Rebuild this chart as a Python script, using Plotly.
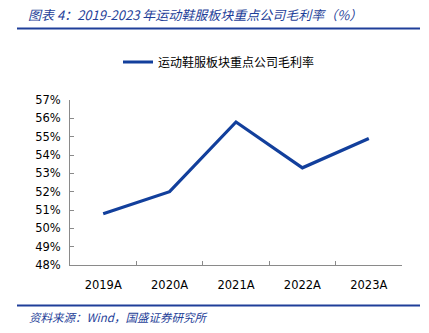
import plotly.graph_objects as go

categories = ["2019A", "2020A", "2021A", "2022A", "2023A"]
margin_values = [50.8, 52.0, 55.8, 53.3, 54.9]
series_name = "运动鞋服板块重点公司毛利率"
y_ticks = [48, 49, 50, 51, 52, 53, 54, 55, 56, 57]
y_tick_labels = [f"{v}%" for v in y_ticks]

W, H = 429, 333
L, R, T, B = 70, 27, 100, 68
PW, PH = W - L - R, H - T - B

def px_x(x):
    return (x - L) / PW

def px_y(y):
    return (H - B - y) / PH

BLUE = "#123f9c"
TEXT_BLUE = "#1f3f99"

fig = go.Figure()
fig.add_trace(go.Scatter(
    x=categories, y=margin_values, mode="lines", name=series_name,
    line=dict(color=BLUE, width=3.2),
))

fig.update_layout(
    width=W, height=H,
    margin=dict(l=L, r=R, t=T, b=B),
    paper_bgcolor="white", plot_bgcolor="white",
    showlegend=True,
    legend=dict(
        orientation="h", x=px_x(118), y=px_y(62), xanchor="left", yanchor="middle",
        font=dict(family="Noto Sans CJK SC", size=12, color="#000"),
        bgcolor="rgba(0,0,0,0)", itemwidth=30,
    ),
    xaxis=dict(
        type="category", range=[-0.5, 4.5], showgrid=False, zeroline=False,
        showline=True, linecolor="#8a8a8a", linewidth=1,
        ticks="inside", ticklen=4, tickcolor="#8a8a8a", tickson="boundaries",
        ticklabelstandoff=9,
        tickfont=dict(family="DejaVu Sans", size=11.5, color="#000"),
    ),
    yaxis=dict(
        range=[48, 57], showgrid=False, zeroline=False,
        showline=True, linecolor="#8a8a8a", linewidth=1,
        ticks="inside", ticklen=4, tickcolor="#8a8a8a",
        tickvals=y_ticks, ticktext=y_tick_labels,
        ticklabelstandoff=6,
        tickfont=dict(family="DejaVu Sans", size=11.5, color="#000"),
    ),
)

fig.add_annotation(
    text="<i>图表 4：2019-2023 年运动鞋服板块重点公司毛利率（%）</i>",
    xref="paper", yref="paper", x=px_x(26), y=px_y(14),
    xanchor="left", yanchor="middle", showarrow=False,
    font=dict(family="Noto Sans CJK SC", size=13, color=TEXT_BLUE),
)
fig.add_annotation(
    text="<i>资料来源：Wind，国盛证券研究所</i>",
    xref="paper", yref="paper", x=px_x(27), y=px_y(317),
    xanchor="left", yanchor="middle", showarrow=False,
    font=dict(family="Noto Sans CJK SC", size=11.5, color=TEXT_BLUE),
)
for yy in (28.5, 305.5):
    fig.add_shape(
        type="line", xref="paper", yref="paper",
        x0=px_x(17), x1=px_x(420), y0=px_y(yy), y1=px_y(yy),
        line=dict(color=TEXT_BLUE, width=2),
    )

fig.write_html("out.html")
